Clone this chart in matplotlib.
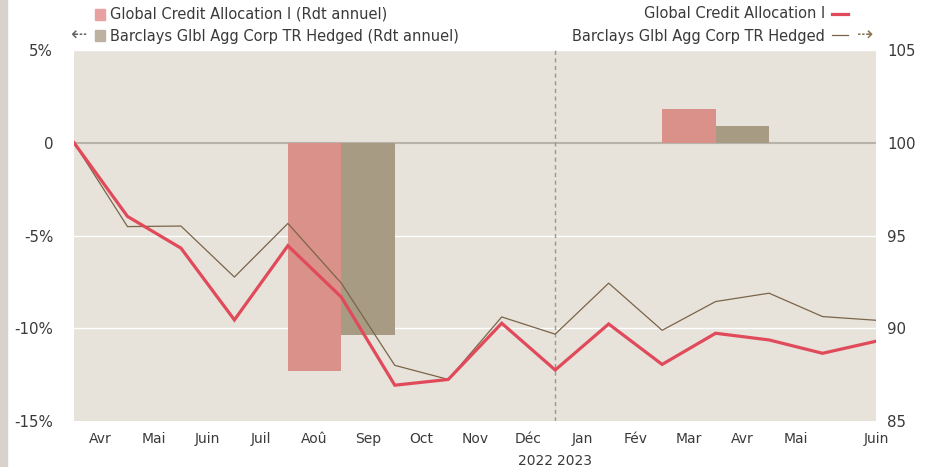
import matplotlib
matplotlib.use("Agg")
import matplotlib.pyplot as plt
from matplotlib.patches import Rectangle
from matplotlib.lines import Line2D

# ---- data ----
month_labels = ["Avr", "Mai", "Juin", "Juil", "Aoû", "Sep", "Oct", "Nov", "Déc",
                "Jan", "Fév", "Mar", "Avr", "Mai", "Juin"]
fund_index = [100, 96.03, 94.32, 90.45, 94.45, 91.68, 86.93, 87.24, 90.27, 87.75,
              90.23, 88.05, 89.73, 89.37, 88.65, 89.3]
bench_index = [100, 95.48, 95.51, 92.76, 95.65, 92.43, 88.0, 87.24, 90.61, 89.68,
               92.43, 89.89, 91.44, 91.89, 90.63, 90.43]
years = ["2022", "2023"]
fund_annual = [-12.3, 1.8]
bench_annual = [-10.35, 0.88]

fund_name = "Global Credit Allocation I"
bench_name = "Barclays Glbl Agg Corp TR Hedged"

# ---- style ----
BG = "#e7e2da"
RED = "#e04a5a"
RED_BAR = "#d9918a"
GRAY_BAR = "#a89b84"
BROWN = "#7a6548"
TXT = "#3a3a3a"
plt.rcParams["font.family"] = ["DejaVu Sans"]

fig = plt.figure(figsize=(9.27, 4.67), dpi=100)
fig.patch.set_facecolor("white")
# left gray strip
fig.patches.append(Rectangle((0, 0), 7 / 927, 1, transform=fig.transFigure,
                             color="#d9d1cb", zorder=0))

ax = fig.add_axes([74 / 927, 1 - 421 / 467, 802 / 927, 371 / 467])
ax.set_facecolor(BG)
for s in ax.spines.values():
    s.set_visible(False)

n = len(fund_index)
x = list(range(n))
ax.set_xlim(0, n - 1)
ax.set_ylim(-15, 5)

# grid
for v in [5, -5, -10]:
    ax.axhline(v, color="white", lw=1, zorder=1)
ax.axhline(0, color="#b7b2aa", lw=1.5, zorder=2)

# annual bars: 2022 after July/Aug, 2023 after Feb/Mar
bar_starts = [4, 11]
for i, yr in enumerate(years):
    ax.bar(bar_starts[i], fund_annual[i], width=1, align="edge", color=RED_BAR, zorder=3)
    ax.bar(bar_starts[i] + 1, bench_annual[i], width=1, align="edge", color=GRAY_BAR, zorder=3)

# year divider
ax.axvline(9, color="#9a9690", lw=1, ls=(0, (3, 2.5)), zorder=2)

ax2 = ax.twinx()
for s in ax2.spines.values():
    s.set_visible(False)
ax2.set_ylim(85, 105)
ax2.plot(x, bench_index, color=BROWN, lw=0.9, zorder=5)
ax2.plot(x, fund_index, color=RED, lw=2.3, zorder=6, solid_joinstyle="miter")

# ticks
ax.set_yticks([5, 0, -5, -10, -15])
ax.set_yticklabels(["5%", "0", "-5%", "-10%", "-15%"])
ax.tick_params(axis="y", length=0, pad=15, labelsize=10.8, labelcolor=TXT)
ax2.set_yticks([105, 100, 95, 90, 85])
ax2.tick_params(axis="y", length=0, pad=8, labelsize=10.8, labelcolor=TXT)

xt = [i + 0.5 for i in range(n - 2)] + [n - 1]
ax.set_xticks(xt)
ax.set_xticklabels(month_labels)
ax.tick_params(axis="x", length=0, pad=8, labelsize=10, labelcolor=TXT)

# year labels
ax.annotate(years[0], xy=(9, 0), xycoords=("data", "axes fraction"),
            xytext=(-1.5, -24), textcoords="offset points", ha="right", va="top",
            fontsize=10, color=TXT)
ax.annotate(years[1], xy=(9, 0), xycoords=("data", "axes fraction"),
            xytext=(1.5, -24), textcoords="offset points", ha="left", va="top",
            fontsize=10, color=TXT)

# ---- legends ----
def fx(px):
    return px / 927

def fy(py):
    return 1 - py / 467

fs = 10.5
fig.patches.append(Rectangle((fx(95), fy(20)), 10 / 927, 11 / 467, transform=fig.transFigure,
                             color="#e8a0a0"))
fig.text(fx(110), fy(14), fund_name + " (Rdt annuel)", ha="left", va="center",
         fontsize=fs, color=TXT)
fig.patches.append(Rectangle((fx(95), fy(41)), 10 / 927, 11 / 467, transform=fig.transFigure,
                             color="#bcb29f"))
fig.text(fx(110), fy(36), bench_name + " (Rdt annuel)", ha="left", va="center",
         fontsize=fs, color=TXT)
fig.text(fx(78), fy(35), "⇠", ha="center", va="center", fontsize=14, color="#666666")

fig.text(fx(825), fy(14), fund_name, ha="right", va="center", fontsize=fs, color=TXT)
fig.lines.append(Line2D([fx(832), fx(848)], [fy(14), fy(14)], transform=fig.transFigure,
                        color=RED, lw=2.3))
fig.text(fx(825), fy(36), bench_name, ha="right", va="center", fontsize=fs, color=TXT)
fig.lines.append(Line2D([fx(832), fx(848)], [fy(35), fy(35)], transform=fig.transFigure,
                        color=BROWN, lw=0.9))
fig.text(fx(865), fy(35), "⇢", ha="center", va="center", fontsize=14, color="#8a7550")

fig.savefig("out.png", dpi=100)
